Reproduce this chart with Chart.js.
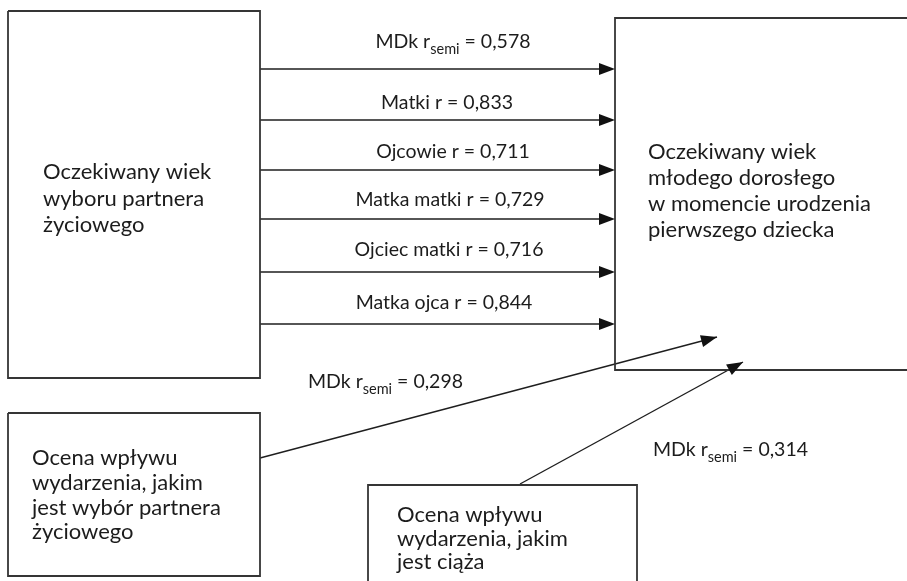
<!DOCTYPE html>
<html><head><meta charset="utf-8">
<script src="https://cdn.jsdelivr.net/npm/chart.js@4/dist/chart.umd.min.js"></script>
<style>html,body{margin:0;padding:0;background:#fff;overflow:hidden}#wrap{width:907px;height:581px;position:relative}canvas{display:block}</style>
</head><body><div id="wrap"><canvas id="c" width="907" height="581"></canvas></div>
<script>
// ---- content ----
const pathSources = ['MDk', 'Matki', 'Ojcowie', 'Matka matki', 'Ojciec matki', 'Matka ojca'];
const pathCoefficients = ['0,578', '0,833', '0,711', '0,729', '0,716', '0,844'];
const pathSemi = [true, false, false, false, false, false];
const sideSources = ['MDk', 'MDk'];
const sideCoefficients = ['0,298', '0,314'];
const boxTexts = [
  ['Oczekiwany wiek', 'wyboru partnera', 'życiowego'],
  ['Oczekiwany wiek', 'młodego dorosłego', 'w momencie urodzenia', 'pierwszego dziecka'],
  ['Ocena wpływu', 'wydarzenia, jakim', 'jest wybór partnera', 'życiowego'],
  ['Ocena wpływu', 'wydarzenia, jakim', 'jest ciąża']
];

// ---- layout (diagram coordinates) ----
const W = 907, H = 581;
const boxGeom = [
  {x0: 8, y0: 11, x1: 260, y1: 378, open: null},
  {x0: 615, y0: 18, x1: 920, y1: 370, open: 'right'},
  {x0: 8, y0: 413, x1: 260, y1: 576, open: null},
  {x0: 368, y0: 485, x1: 637, y1: 600, open: 'bottom'}
];
const textGeom = [
  {x: 43, y: 172, lh: 26.5},
  {x: 648, y: 152, lh: 26},
  {x: 32, y: 458, lh: 24.8},
  {x: 397, y: 515, lh: 23.5}
];
const arrowRows = [69, 120, 170, 219, 272, 324];
const arrowX0 = 260, arrowX1 = 615;
const labelCx = [453, 447, 453, 450, 449, 444];
const labelDy = [-27, -17, -18, -19, -22, -21];
const sideArrows = [
  {x0: 260, y0: 458, x1: 717, y1: 337},
  {x0: 520, y0: 484, x1: 743, y1: 362}
];
const sideLabelPos = [{x: 308, y: 382}, {x: 653, y: 450}];

const FONT = 'Lato, "Open Sans", sans-serif';
const BOX_FONT = '22px ' + FONT;
const LAB_FONT = '19.5px ' + FONT;
const SUB_FONT = '14.5px ' + FONT;
const INK = '#1e1e1e';

function boxPoints(b) {
  if (b.open === 'right') return [{x: b.x1, y: b.y0}, {x: b.x0, y: b.y0}, {x: b.x0, y: b.y1}, {x: b.x1, y: b.y1}];
  if (b.open === 'bottom') return [{x: b.x0, y: b.y1}, {x: b.x0, y: b.y0}, {x: b.x1, y: b.y0}, {x: b.x1, y: b.y1}];
  return [{x: b.x0, y: b.y0}, {x: b.x1, y: b.y0}, {x: b.x1, y: b.y1}, {x: b.x0, y: b.y1}, {x: b.x0, y: b.y0}];
}

const datasets = [];
boxGeom.forEach((b, i) => datasets.push({
  label: 'box' + i, data: boxPoints(b), showLine: true, borderColor: '#353535', borderWidth: 1.8,
  pointRadius: 0, fill: false, tension: 0, clip: false, kind: 'box'
}));
arrowRows.forEach((y, i) => datasets.push({
  label: 'path' + i, data: [{x: arrowX0, y: y}, {x: arrowX1 - 10, y: y}], showLine: true, borderColor: INK, borderWidth: 1.6,
  pointRadius: 0, fill: false, tension: 0, clip: false, kind: 'arrow', tip: {x: arrowX1, y: y}
}));
sideArrows.forEach((a, i) => datasets.push({
  label: 'side' + i, data: [{x: a.x0, y: a.y0}, {x: a.x1, y: a.y1}], showLine: true, borderColor: INK, borderWidth: 1.4,
  pointRadius: 0, fill: false, tension: 0, clip: false, kind: 'arrow', tip: {x: a.x1, y: a.y1}
}));

function drawLabel(ctx, xs, ys, name, coef, semi, align) {
  const parts = semi
    ? [[name + ' r', LAB_FONT, 0], ['semi', SUB_FONT, 7], [' = ' + coef, LAB_FONT, 0]]
    : [[name + ' r = ' + coef, LAB_FONT, 0]];
  let total = 0;
  parts.forEach(p => { ctx.font = p[1]; total += ctx.measureText(p[0]).width; });
  let x = align === 'center' ? xs - total / 2 : xs;
  ctx.textAlign = 'left';
  ctx.textBaseline = 'middle';
  parts.forEach(p => { ctx.font = p[1]; ctx.fillText(p[0], x, ys + p[2]); x += ctx.measureText(p[0]).width; });
}

const diagramPlugin = {
  id: 'diagram',
  afterDatasetsDraw(chart) {
    const ctx = chart.ctx, sx = chart.scales.x, sy = chart.scales.y;
    const px = v => sx.getPixelForValue(v), py = v => sy.getPixelForValue(v);
    ctx.save();
    chart.data.datasets.forEach(ds => {
      if (ds.kind !== 'arrow') return;
      const p0 = ds.data[0];
      const tx = px(ds.tip.x), ty = py(ds.tip.y);
      const ang = Math.atan2(ty - py(p0.y), tx - px(p0.x));
      const L = 16, hw = 6;
      ctx.fillStyle = '#111';
      ctx.beginPath();
      ctx.moveTo(tx, ty);
      ctx.lineTo(tx - L * Math.cos(ang) + hw * Math.sin(ang), ty - L * Math.sin(ang) - hw * Math.cos(ang));
      ctx.lineTo(tx - L * Math.cos(ang) - hw * Math.sin(ang), ty - L * Math.sin(ang) + hw * Math.cos(ang));
      ctx.closePath();
      ctx.fill();
    });
    ctx.fillStyle = '#1c1c1c';
    boxTexts.forEach((lines, i) => {
      const g = textGeom[i];
      ctx.font = BOX_FONT; ctx.textAlign = 'left'; ctx.textBaseline = 'middle';
      lines.forEach((t, j) => ctx.fillText(t, px(g.x), py(g.y + j * g.lh)));
    });
    pathSources.forEach((s, i) => {
      drawLabel(ctx, px(labelCx[i]), py(arrowRows[i] + labelDy[i]), s, pathCoefficients[i], pathSemi[i], 'center');
    });
    sideSources.forEach((s, i) => {
      drawLabel(ctx, px(sideLabelPos[i].x), py(sideLabelPos[i].y), s, sideCoefficients[i], true, 'left');
    });
    ctx.restore();
  }
};

new Chart(document.getElementById('c'), {
  type: 'scatter',
  data: {datasets},
  options: {
    responsive: false, animation: false, events: [],
    layout: {padding: 0},
    plugins: {legend: {display: false}, tooltip: {enabled: false}},
    scales: {
      x: {type: 'linear', min: 0, max: W, display: false},
      y: {type: 'linear', min: 0, max: H, reverse: true, display: false}
    }
  },
  plugins: [diagramPlugin]
});
</script></body></html>
